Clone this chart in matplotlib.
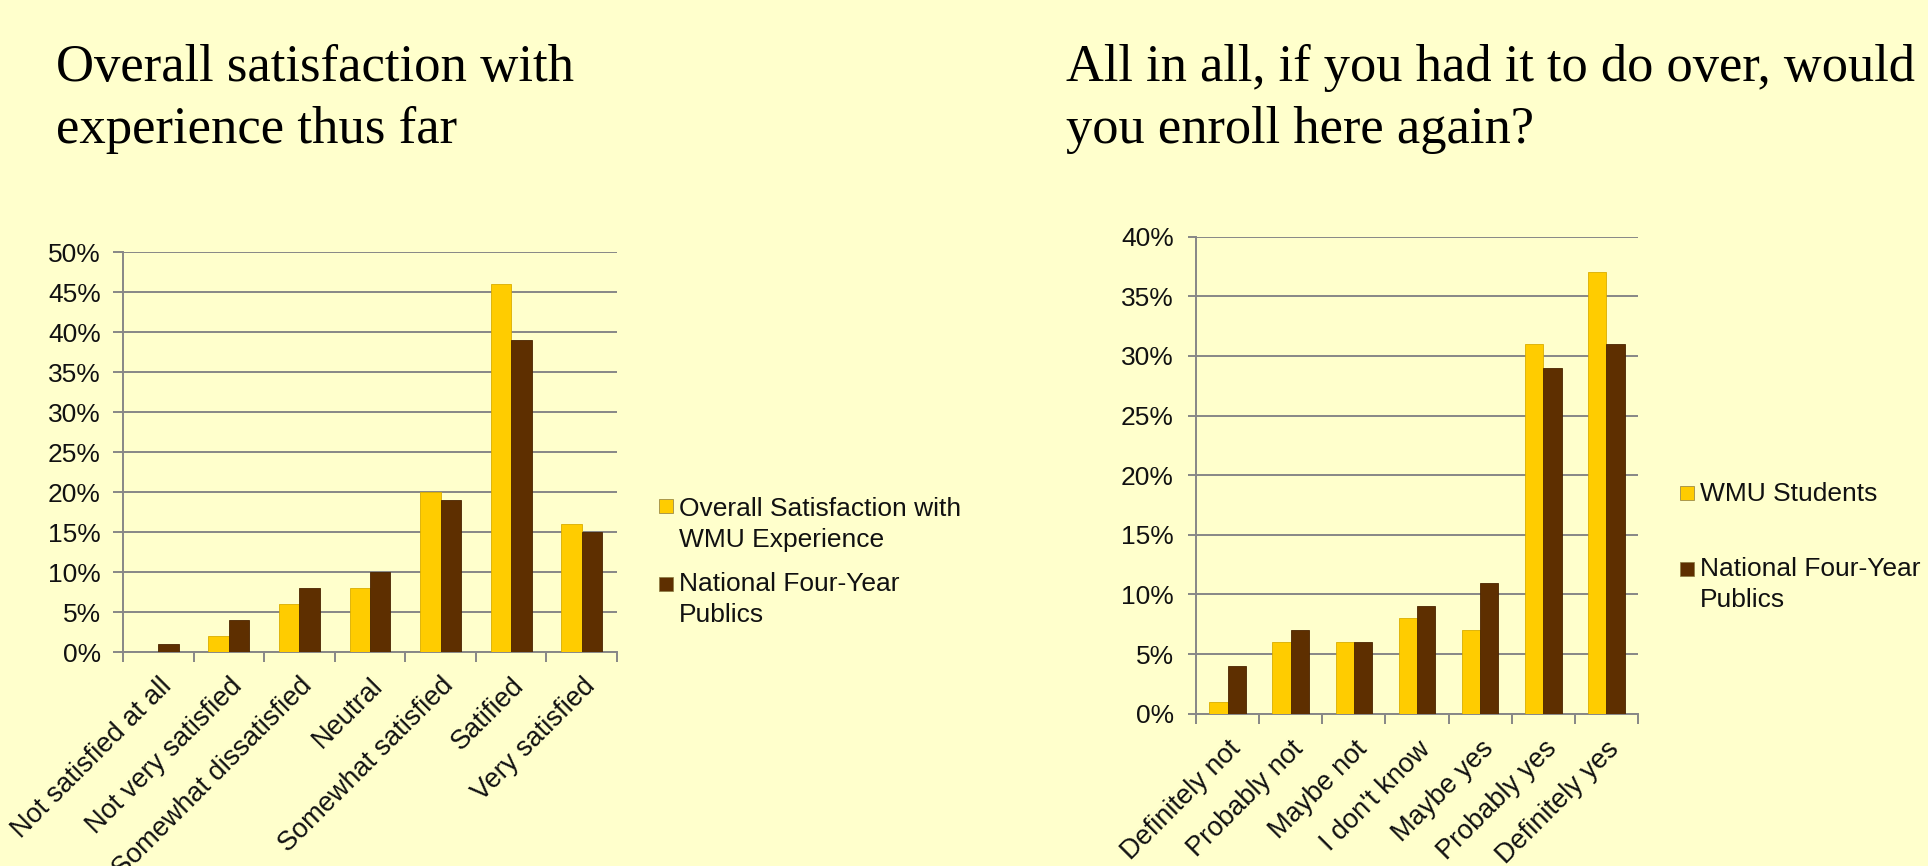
import numpy as np
import matplotlib
matplotlib.use("Agg")
import matplotlib.pyplot as plt
from matplotlib.ticker import PercentFormatter, FixedLocator
from matplotlib.patches import Rectangle

# ---------------- data ----------------
sat_categories = ["Not satisfied at all", "Not very satisfied", "Somewhat dissatisfied",
                  "Neutral", "Somewhat satisfied", "Satified", "Very satisfied"]
sat_wmu = [0.00, 0.02, 0.06, 0.08, 0.20, 0.46, 0.16]
sat_national = [0.01, 0.04, 0.08, 0.10, 0.19, 0.39, 0.15]
sat_labels = ["Overall Satisfaction with", "WMU Experience"]

enroll_categories = ["Definitely not", "Probably not", "Maybe not", "I don't know",
                     "Maybe yes", "Probably yes", "Definitely yes"]
enroll_wmu = [0.01, 0.06, 0.06, 0.08, 0.07, 0.31, 0.37]
enroll_national = [0.04, 0.07, 0.06, 0.09, 0.11, 0.29, 0.31]
enroll_labels = ["WMU Students"]

national_labels = ["National Four-Year", "Publics"]

title_left = ["Overall satisfaction with", "experience thus far"]
title_right = ["All in all, if you had it to do over, would", "you enroll here again?"]

# ---------------- style ----------------
W, H = 1928, 866
BG = "#FFFFCC"
YEL = "#FFCC00"
BRN = "#5E2F00"
GRID = "#878787"
SANS = ["Liberation Sans", "DejaVu Sans"]
SERIF = ["Liberation Serif", "DejaVu Serif"]

plt.rcParams["font.family"] = SANS

fig = plt.figure(figsize=(W / 100, H / 100), dpi=100, facecolor=BG)


def px_axes(x0, y_top, x1, y_bot):
    return fig.add_axes([x0 / W, 1 - y_bot / H, (x1 - x0) / W, (y_bot - y_top) / H])


def draw_chart(ax, cats, wmu, nat, ymax, fs, ticklen, ypad, labelpad):
    ax.set_facecolor("none")
    x = np.arange(len(cats))
    w = 0.29
    ax.bar(x - w / 2, wmu, w, color=YEL, edgecolor="#D9AE00", linewidth=0.6, zorder=3)
    ax.bar(x + w / 2, nat, w, color=BRN, edgecolor="#4A2400", linewidth=0.6, zorder=3)
    ax.set_xlim(-0.5, len(cats) - 0.5)
    ax.set_ylim(0, ymax)
    ax.set_yticks(np.arange(0, ymax + 1e-9, 0.05))
    ax.yaxis.set_major_formatter(PercentFormatter(1.0, decimals=0))
    ax.yaxis.grid(True, color=GRID, linewidth=1.4, zorder=0)
    ax.set_axisbelow(True)
    for s in ("top", "right"):
        ax.spines[s].set_visible(False)
    for s in ("left", "bottom"):
        ax.spines[s].set_color(GRID)
        ax.spines[s].set_linewidth(1.4)
    ax.tick_params(axis="y", length=ticklen, width=1.4, color=GRID, pad=ypad,
                   labelsize=fs, labelcolor="#111111")
    ax.set_xticks(x)
    ax.set_xticklabels(cats, rotation=45, ha="right", va="top",
                       rotation_mode="anchor", fontsize=fs + 0.5, color="#111111")
    ax.xaxis.set_minor_locator(FixedLocator(np.arange(-0.5, len(cats), 1.0)))
    ax.tick_params(axis="x", which="major", length=0, pad=labelpad)
    ax.tick_params(axis="x", which="minor", length=7, width=1.4, color=GRID)


ax1 = px_axes(123, 252, 617, 652)
draw_chart(ax1, sat_categories, sat_wmu, sat_national, 0.50, 19, 7, 9, 15)

ax2 = px_axes(1196, 236.7, 1638, 713.7)
draw_chart(ax2, enroll_categories, enroll_wmu, enroll_national, 0.40, 19, 6, 10, 16)

# ---------------- titles ----------------
for i, line in enumerate(title_left):
    fig.text(56 / W, 1 - (81 + 62 * i) / H, line, family=SERIF, fontsize=38,
             va="baseline", ha="left", color="black")
for i, line in enumerate(title_right):
    fig.text(1066 / W, 1 - (81 + 62 * i) / H, line, family=SERIF, fontsize=37.8,
             va="baseline", ha="left", color="black")


# ---------------- legends ----------------
def legend_entry(x_sq, y_sq_top, size, color, x_text, baselines, lines, fs):
    fig.add_artist(Rectangle((x_sq / W, 1 - (y_sq_top + size) / H), size / W, size / H,
                             transform=fig.transFigure, facecolor=color,
                             edgecolor="#8a7a40", linewidth=0.5))
    for b, t in zip(baselines, lines):
        fig.text(x_text / W, 1 - b / H, t, fontsize=fs, va="baseline", ha="left",
                 color="#111111")


legend_entry(659, 499, 14, YEL, 679, [516, 547], sat_labels, 19)
legend_entry(659, 577, 14, BRN, 679, [591, 622], national_labels, 19)

legend_entry(1680, 486, 14, YEL, 1700, [501], enroll_labels, 19)
legend_entry(1680, 562, 14, BRN, 1700, [576, 607], national_labels, 19)

fig.savefig("out.png", dpi=100, facecolor=BG)
